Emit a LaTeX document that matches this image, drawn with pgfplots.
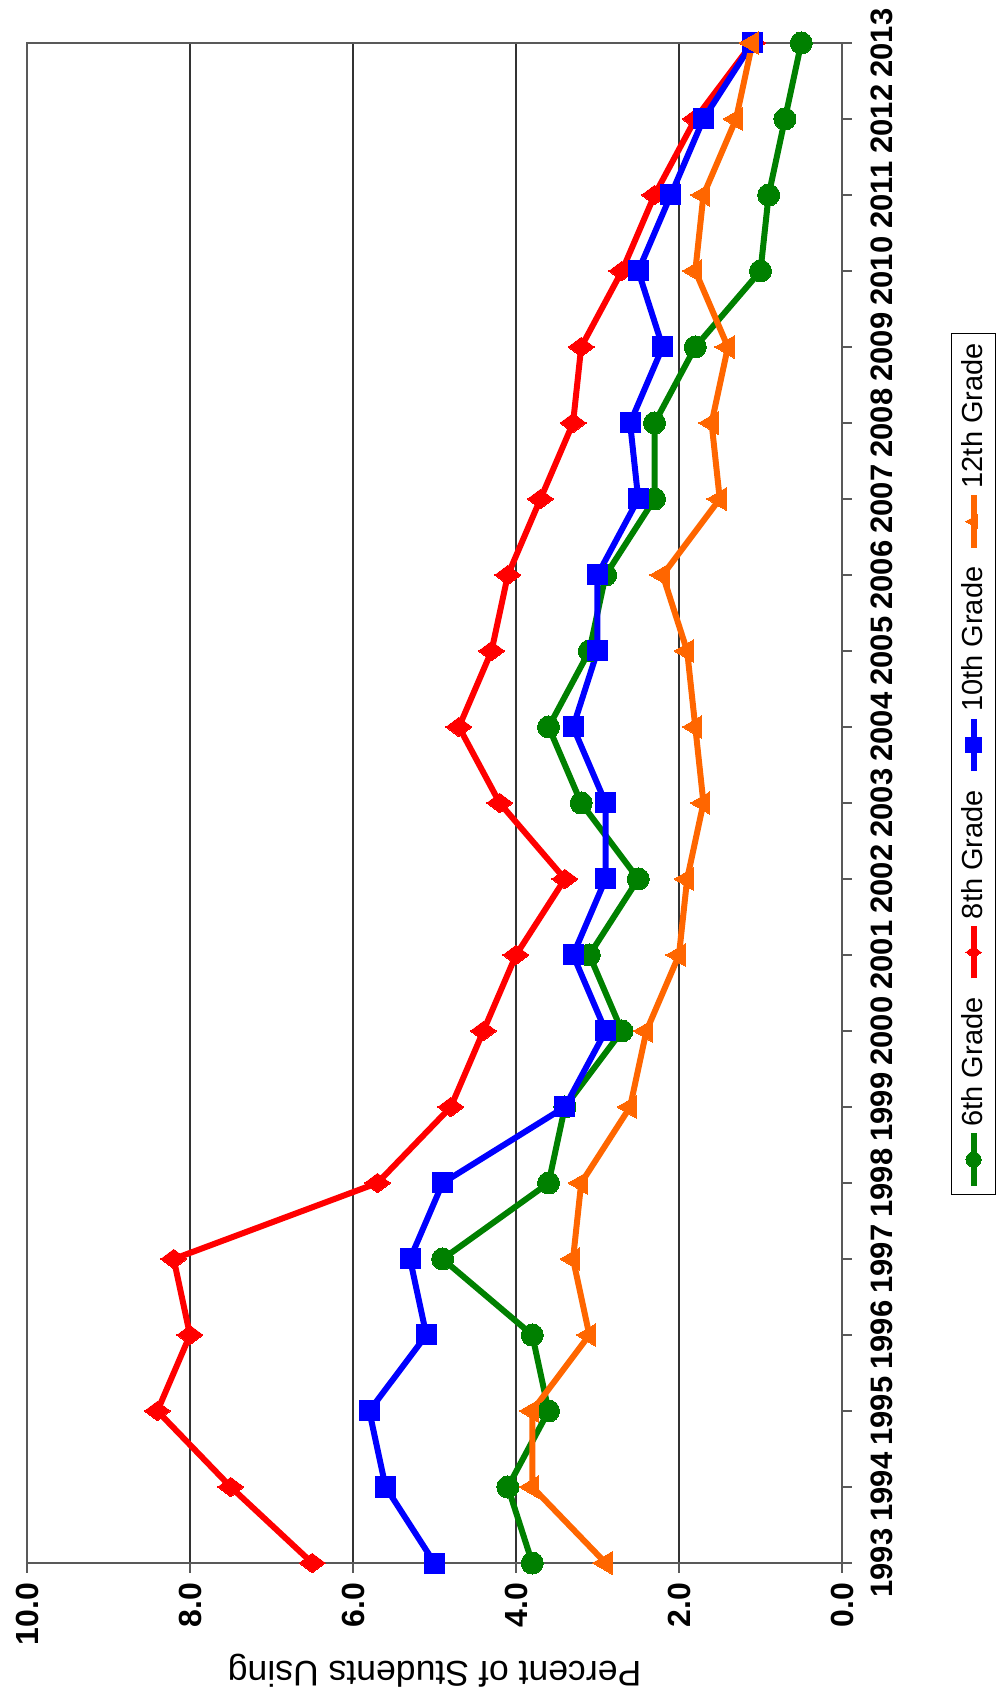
\documentclass[border=0pt]{standalone}
\usepackage{pgfplots}
\pgfplotsset{compat=1.18}
\usepackage{pgfplotstable}
\usepackage{fontspec}
\setmainfont{Liberation Sans}
\usepackage{graphicx}

\definecolor{cgreen}{RGB}{0,128,0}
\definecolor{cred}{RGB}{255,0,0}
\definecolor{cblue}{RGB}{0,0,255}
\definecolor{corange}{RGB}{255,102,0}

% percent of students using, by grade
\pgfplotstableread{
year g6  g8  g10 g12
1993 3.8 6.5 5.0 2.9
1994 4.1 7.5 5.6 3.8
1995 3.6 8.4 5.8 3.8
1996 3.8 8.0 5.1 3.1
1997 4.9 8.2 5.3 3.3
1998 3.6 5.7 4.9 3.2
1999 3.4 4.8 3.4 2.6
2000 2.7 4.4 2.9 2.4
2001 3.1 4.0 3.3 2.0
2002 2.5 3.4 2.9 1.9
2003 3.2 4.2 2.9 1.7
2004 3.6 4.7 3.3 1.8
2005 3.1 4.3 3.0 1.9
2006 2.9 4.1 3.0 2.2
2007 2.3 3.7 2.5 1.5
2008 2.3 3.3 2.6 1.6
2009 1.8 3.2 2.2 1.4
2010 1.0 2.7 2.5 1.8
2011 0.9 2.3 2.1 1.7
2012 0.7 1.8 1.7 1.3
2013 0.5 1.1 1.1 1.1
}\datatable

\begin{document}
\rotatebox{90}{%
\begin{tikzpicture}
\useasboundingbox (0,0) rectangle (852.5pt,500pt);
\begin{axis}[
    at={(71pt,79pt)}, anchor=south west,
    scale only axis,
    width=760pt, height=407.5pt,
    xmin=1993, xmax=2013,
    ymin=0, ymax=10,
    xtick={1993,1994,...,2013},
    ytick={0,2,4,6,8,10},
    /pgf/number format/assume math mode=true,
    xticklabel style={/pgf/number format/1000 sep={}, font=\bfseries\fontsize{15.5}{18}\selectfont, yshift=-6pt},
    yticklabel style={/pgf/number format/fixed, /pgf/number format/fixed zerofill,
        /pgf/number format/precision=1, font=\bfseries\fontsize{16}{19}\selectfont, xshift=-1.5pt},
    tick align=outside,
    major tick length=5pt,
    tick style={gray!70!black, line width=1pt},
    xtick pos=bottom, ytick pos=left,
    axis line style={gray!70!black, line width=1pt},
    ymajorgrids=true,
    grid style={black!80, line width=0.7pt},
    ylabel={Percent of Students Using},
    ylabel style={font=\fontsize{17.8}{21}\selectfont, at={(axis description cs:-0.0711,0.5)}, anchor=center},
    legend style={at={(axis description cs:0.5257,-0.1337)}, anchor=north,
        draw=black, line width=0.6pt, font=\fontsize{14.5}{17}\selectfont,
        inner ysep=3pt,
        /tikz/every even column/.append style={column sep=6pt}},
    legend columns=4,
    legend cell align=left,
    legend image code/.code={\draw[mark size=3.8pt, mark repeat=2,mark phase=2] plot coordinates {(0cm,0cm) (0.46cm,0cm) (0.92cm,0cm)};},
    every axis plot/.append style={line width=3pt},
]
\addplot[color=cgreen, mark=*, mark size=5.5pt, mark options={solid, line width=0pt}] table[x=year, y=g6] {\datatable};
\addplot[color=cred, mark=diamond*, mark size=6.5pt, mark options={solid, line width=0pt}] table[x=year, y=g8] {\datatable};
\addplot[color=cblue, mark=square*, mark size=5pt, mark options={solid, line width=0pt}] table[x=year, y=g10] {\datatable};
\addplot[color=corange, mark=triangle*, mark size=6.5pt, mark options={solid, line width=0pt}] table[x=year, y=g12] {\datatable};
\legend{6th Grade, 8th Grade, 10th Grade, 12th Grade}
\end{axis}
\end{tikzpicture}}
\end{document}
